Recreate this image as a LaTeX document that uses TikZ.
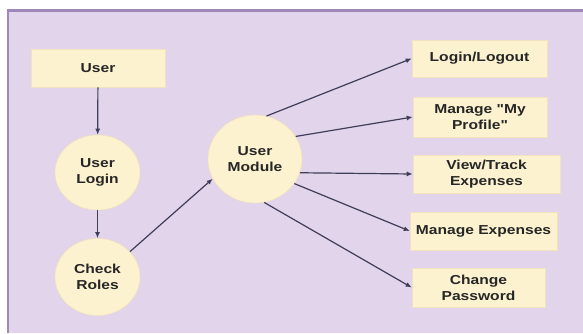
\documentclass[tikz,border=0pt]{standalone}
\usepackage{fontspec}
\newfontfamily\labfont[FakeStretch=1.2]{Liberation Sans}
\usetikzlibrary{shapes.geometric,arrows.meta}
\definecolor{bgpurple}{HTML}{E1D4EB}
\definecolor{bordpurple}{HTML}{9E88B6}
\definecolor{nodefill}{HTML}{FCF2CF}
\definecolor{nodeedge}{HTML}{F2E2BE}
\definecolor{arrowcol}{HTML}{403D5A}
\definecolor{txtcol}{HTML}{262626}
\tikzset{
  lab/.style={font=\labfont\bfseries\fontsize{13}{16}\selectfont, text=txtcol, align=center},
  rbox/.style={lab, rectangle, fill=nodefill, draw=nodeedge, line width=0.6pt, inner sep=0pt},
  ell/.style={lab, ellipse, fill=nodefill, draw=nodeedge, line width=0.6pt, inner sep=0pt},
  arr/.style={draw=arrowcol, line width=1.2pt, -{Latex[length=6pt,width=5pt]}}
}
\begin{document}
\begin{tikzpicture}[x=1pt,y=-1pt]
\useasboundingbox (0,0) rectangle (583,333);
\fill[white] (0,0) rectangle (583,333);
\fill[bgpurple] (7,9.5) rectangle (583,333);
\draw[bordpurple, line width=2.5pt] (8,333) -- (8,10.5) -- (583,10.5);

\node[rbox, minimum width=134pt, minimum height=38pt] (user) at (98,68) {User};
\node[ell, minimum width=85pt, minimum height=75pt] (login) at (97.5,172.5) {User\\Login};
\node[ell, minimum width=85pt, minimum height=77pt] (check) at (97.5,277) {Check\\Roles};
\node[ell, minimum width=94pt, minimum height=88pt] (um) at (255,159) {User\\Module};

\node[rbox, minimum width=135pt, minimum height=37pt] (ll) at (479.5,58.5) {Login/Logout};
\node[rbox, minimum width=134pt, minimum height=40pt] (mp) at (480,117) {Manage "My\\Profile"};
\node[rbox, minimum width=147pt, minimum height=38pt] (vt) at (486.5,174) {View/Track\\Expenses};
\node[rbox, minimum width=147pt, minimum height=38pt] (me) at (483.5,231) {Manage Expenses};
\node[rbox, minimum width=133pt, minimum height=39pt] (cp) at (478.5,287.5) {Change\\Password};

\draw[arr] (user) -- (login);
\draw[arr] (login) -- (check);
\draw[arr] (check.38) -- (um.205);
\draw[arr] (um.75) -- (ll.west);
\draw[arr] (um.29) -- (mp.west);
\draw[arr] (um.-17) -- (vt.west);
\draw[arr] (um.-32) -- (me.west);
\draw[arr] (um.-78) -- (cp.west);
\end{tikzpicture}
\end{document}
